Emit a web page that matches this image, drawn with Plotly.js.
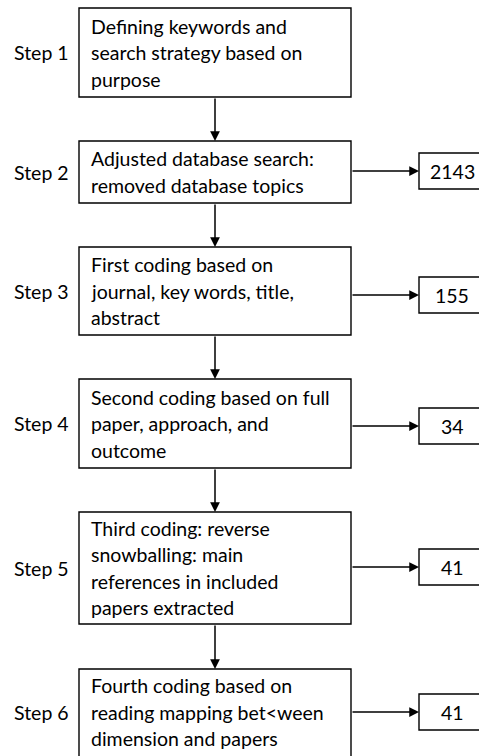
<!DOCTYPE html>
<html><head><meta charset="utf-8">
<script src="https://cdn.plot.ly/plotly-3.0.1.min.js"></script>
<style>html,body{margin:0;padding:0;background:#fff}#chart{width:479px;height:756px}</style>
</head><body><div id="chart"></div>
<script>
// ---- data ----
var stepLabels = ["Step 1","Step 2","Step 3","Step 4","Step 5","Step 6"];
var stepTexts = [
  ["Defining keywords and","search strategy based on","purpose"],
  ["Adjusted database search:","removed database topics"],
  ["First coding based on","journal, key words, title,","abstract"],
  ["Second coding based on full","paper, approach, and","outcome"],
  ["Third coding: reverse","snowballing: main","references in included","papers extracted"],
  ["Fourth coding based on","reading mapping bet<ween","dimension and papers"]
];
var counts = [null, "2143", "155", "34", "41", "41"];

// ---- layout geometry (pixels, y downward) ----
var boxTop = [8, 141, 247, 379, 512, 669];
var boxBot = [97, 203, 335, 468, 624, 760];
var boxL = 79, boxR = 351, midX = 215;
var numL = 419, numR = 500, numH = 36;
var numCY = [null, 171, 295, 426, 567, 712];
var lineH = 26.5;
var FONT = "Lato, 'Liberation Sans', sans-serif";
var FS = 19.5;

var shapes = [], ann = [];
function esc(s){return s.replace(/&/g,"&amp;").replace(/</g,"&lt;").replace(/>/g,"&gt;");}
for (var i = 0; i < stepLabels.length; i++) {
  var cy = (boxTop[i] + Math.min(boxBot[i], 756)) / 2;
  if (i === 5) cy = 712;
  shapes.push({type:"rect", xref:"x", yref:"y", x0:boxL, x1:boxR, y0:boxTop[i], y1:boxBot[i],
    line:{color:"#000", width:1.4}, fillcolor:"rgba(0,0,0,0)"});
  ann.push({x:12, y:cy, xref:"x", yref:"y", xanchor:"left", yanchor:"middle", showarrow:false,
    text:stepLabels[i], font:{family:FONT, size:FS, color:"#000"}});
  var lines = stepTexts[i];
  for (var j = 0; j < lines.length; j++) {
    ann.push({x:boxL+10, y:cy + (j-(lines.length-1)/2)*lineH, xref:"x", yref:"y", xanchor:"left", yanchor:"middle",
      showarrow:false, text:esc(lines[j]), font:{family:FONT, size:FS, color:"#000"}});
  }
  if (i < stepLabels.length - 1) {
    ann.push({x:midX, y:boxTop[i+1], ax:midX, ay:boxBot[i], xref:"x", yref:"y", axref:"x", ayref:"y",
      showarrow:true, text:"", arrowhead:2, arrowsize:1.3, arrowwidth:1.5, arrowcolor:"#000", standoff:0});
  }
  if (counts[i] !== null) {
    var t = numCY[i]-numH/2, b = numCY[i]+numH/2;
    shapes.push({type:"path", xref:"x", yref:"y",
      path:"M"+numR+","+t+" L"+numL+","+t+" L"+numL+","+b+" L"+numR+","+b,
      line:{color:"#000", width:1.4}, fillcolor:"rgba(0,0,0,0)"});
    ann.push({x:numL, y:numCY[i], ax:boxR, ay:numCY[i], xref:"x", yref:"y", axref:"x", ayref:"y",
      showarrow:true, text:"", arrowhead:2, arrowsize:1.3, arrowwidth:1.5, arrowcolor:"#000", standoff:0});
    ann.push({x:452, y:numCY[i], xref:"x", yref:"y", xanchor:"center", yanchor:"middle", showarrow:false,
      text:counts[i], font:{family:FONT, size:FS, color:"#000"}});
  }
}

var layout = {
  width:479, height:756, margin:{l:0,r:0,t:0,b:0},
  paper_bgcolor:"#fff", plot_bgcolor:"#fff", showlegend:false,
  xaxis:{range:[0,479], visible:false, fixedrange:true},
  yaxis:{range:[756,0], visible:false, fixedrange:true},
  shapes:shapes, annotations:ann
};
Plotly.newPlot("chart", [{x:[0,479], y:[0,756], mode:"markers", marker:{opacity:0}, hoverinfo:"skip"}], layout, {displayModeBar:false, staticPlot:true});
</script></body></html>
